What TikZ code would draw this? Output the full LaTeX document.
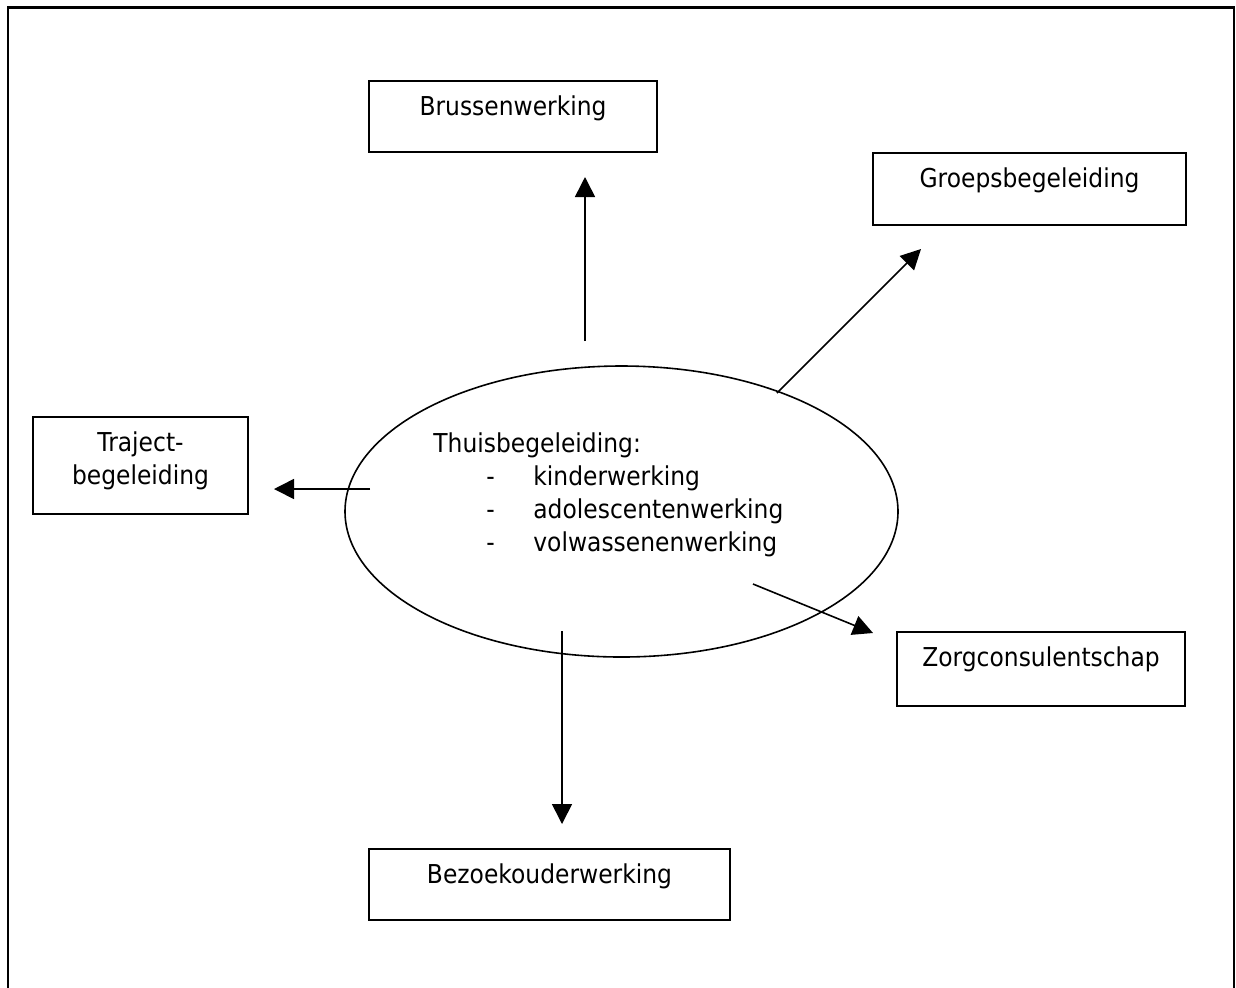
\documentclass[tikz,border=0pt]{standalone}
\usepackage{fontspec}
\setmainfont{DejaVu Sans}[FakeStretch=0.9]
\usetikzlibrary{arrows.meta,shapes.geometric}
\newcommand{\thuisitem}[1]{\hspace*{26.5pt}\makebox[23.5pt][l]{-}#1}

\begin{document}
\begin{tikzpicture}[x=0.5pt, y=-0.5pt,
    font=\fontsize{13}{16.6}\selectfont,
    box/.style={draw, line width=0.8pt, inner sep=0pt, text height=17pt},
    arr/.style={-{Triangle[length=10pt,width=10pt]}, line width=0.8pt}]
  \useasboundingbox (0,0) rectangle (1236,987);
  \draw[line width=1.2pt] (8,7.5) rectangle (1234,1010);

  % centre
  \node[draw, ellipse, line width=0.8pt, minimum width=276.5pt,
    minimum height=145.5pt, inner sep=0pt] (thuis) at (621.5,511.5) {};
  \node[anchor=base west, inner sep=0pt] (thuistxt) at (433,452)
    {\begin{tabular}[t]{@{}l@{}}
      Thuisbegeleiding:\\
      \thuisitem{kinderwerking}\\
      \thuisitem{adolescentenwerking}\\
      \thuisitem{volwassenenwerking}
    \end{tabular}};

  % boxes
  \node[box, minimum width=144pt, text depth=18.5pt] (bruss) at (513,116.5) {Brussenwerking};
  \node[box, minimum width=156.5pt, text depth=19pt] (groep) at (1029.5,189) {Groepsbegeleiding};
  \node[box, minimum width=107.5pt, text depth=31.5pt] (traject) at (140.5,465.5)
    {\begin{tabular}[t]{@{}c@{}}Traject-\\begeleiding\end{tabular}};
  \node[box, minimum width=144pt, text depth=20pt] (zorg) at (1041,669) {Zorgconsulentschap};
  \node[box, minimum width=180.5pt, text depth=18.5pt] (bezoek) at (549.5,884.5) {Bezoekouderwerking};

  % arrows
  \coordinate (up0) at (585,341);   \coordinate (up1) at (585,177);
  \coordinate (diag0) at (777,393); \coordinate (diag1) at (921,249);
  \coordinate (left0) at (370,489); \coordinate (left1) at (274,489);
  \coordinate (dr0) at (753,584);   \coordinate (dr1) at (873,633);
  \coordinate (down0) at (562,631); \coordinate (down1) at (562,824);
  \draw[arr] (up0) -- (up1);
  \draw[arr] (diag0) -- (diag1);
  \draw[arr] (left0) -- (left1);
  \draw[arr] (dr0) -- (dr1);
  \draw[arr] (down0) -- (down1);
\end{tikzpicture}
\end{document}
